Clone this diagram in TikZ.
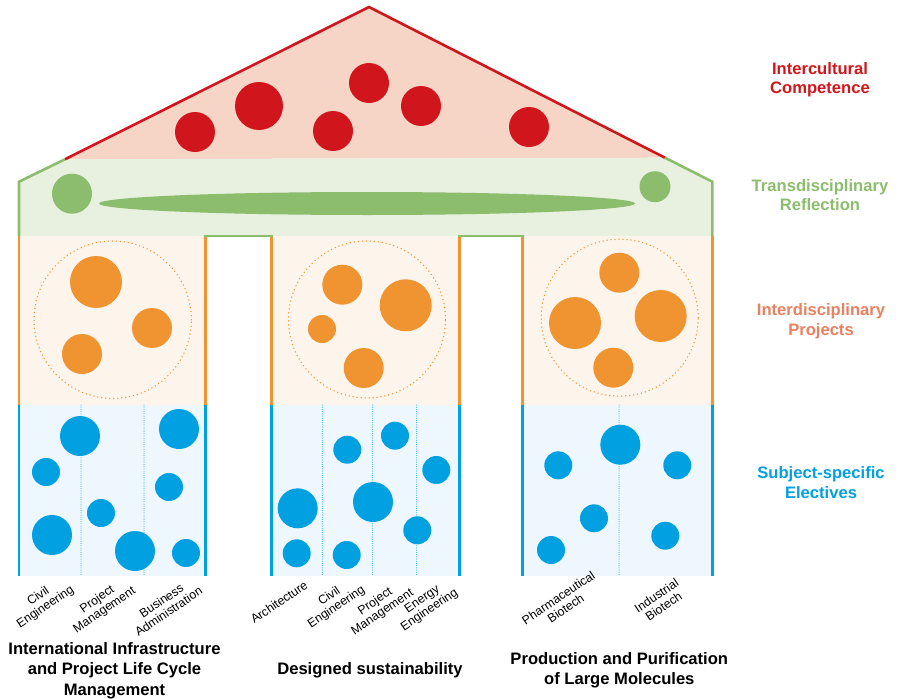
\documentclass[tikz,border=0pt]{standalone}
\usepackage{fontspec}
\setmainfont{Liberation Sans}
\definecolor{redc}{HTML}{D0161C}
\definecolor{roofc}{HTML}{F6D5C7}
\definecolor{greenc}{HTML}{8CBD6D}
\definecolor{bandc}{HTML}{E8F0E0}
\definecolor{orangec}{HTML}{EF9431}
\definecolor{orfill}{HTML}{FDF4EC}
\definecolor{bluec}{HTML}{00A0E1}
\definecolor{blfill}{HTML}{EEF7FE}
\definecolor{projc}{HTML}{EA8060}
\begin{document}
\begin{tikzpicture}[x=1pt,y=-1pt,
  outl/.style={line width=2.6pt},
  dotv/.style={draw=bluec, line width=1pt, line cap=round, dash pattern=on 0pt off 2.2pt},
  dotc/.style={draw=orangec, line width=1.5pt, line cap=round, dash pattern=on 0pt off 4pt},
  rdot/.style={fill=redc},
  gdot/.style={fill=greenc},
  odot/.style={fill=orangec},
  bdot/.style={fill=bluec},
  sidelabel/.style={font=\fontsize{16.6}{19.5}\selectfont\bfseries, align=center, inner sep=0pt},
  titlelabel/.style={font=\fontsize{16.6}{20.5}\selectfont\bfseries, align=center, inner sep=0pt},
  sublabel/.style={font=\fontsize{12.3}{12.8}\selectfont, align=center, inner sep=0pt, rotate=34}]
\useasboundingbox (0,0) rectangle (898,699);
% ---------- roof ----------
\coordinate (rl) at (65,159.3);
\coordinate (apex) at (369,7);
\coordinate (rr) at (665,157.7);
\fill[roofc] (rl) -- (apex) -- (rr) -- cycle;
% ---------- band ----------
\coordinate (bl) at (19,181.7);
\coordinate (br) at (712.3,181.7);
\coordinate (bbl) at (19,236);
\coordinate (bbr) at (712.3,236);
\fill[bandc] (bl) -- (rl) -- (rr) -- (br) -- (bbr) -- (bbl) -- cycle;
% ---------- columns ----------
\foreach \a/\b in {19/205.7, 271.3/459.3, 522.7/712.3}{
  \fill[orfill] (\a,236) rectangle (\b,405);
  \fill[blfill] (\a,405) rectangle (\b,576);
}
% dotted separators
\foreach \x in {81,144,322.3,372.7,416.7,619}{
  \draw[dotv] (\x,405) -- (\x,576);
}
% dotted circles
\draw[dotc] (112.7,319.7) circle [radius=78.7pt];
\draw[dotc] (367,319.5) circle [radius=78.5pt];
\draw[dotc] (619.7,317.7) circle [radius=78.5pt];
% red circles
\foreach \x/\y/\r in {195/132/20, 259/106/24, 333/131/20, 369/83/20, 421/106/20, 529/127/20}{
  \fill[rdot] (\x,\y) circle [radius=\r pt];
}
% green shapes
\fill[gdot] (72,193.7) circle [radius=20pt];
\fill[gdot] (655,186.7) circle [radius=15.5pt];
\fill[gdot] (367,203.5) ellipse [x radius=268pt, y radius=11.5pt];
% orange circles
\foreach \x/\y/\r in {96/282/26, 152/328/20, 82/354/20,
                      342.3/284.7/20, 405.7/305.3/26, 322/329/14, 363.7/368/20,
                      619.3/272.7/20, 575/323/26, 660.7/316/26, 613.3/367.7/20}{
  \fill[odot] (\x,\y) circle [radius=\r pt];
}
% blue circles
\foreach \x/\y/\r in {80/436/20, 46/472/14, 52/535/20, 101/513/14, 135/551/20, 179/429/20, 169/487/14, 186/553/14,
                      347.3/449.7/14, 395/435.7/14, 436.3/470/14, 297.7/508.3/20, 373/502/20, 417.3/530.3/14, 296.7/553.3/14, 346.7/555/14,
                      620.3/444.7/20, 558.3/465.3/14, 677.3/465.3/14, 594/518.3/14, 551/550/14, 665.3/535.7/14}{
  \fill[bdot] (\x,\y) circle [radius=\r pt];
}
% ---------- outlines ----------
\draw[redc, outl] (rl) -- (apex) -- (rr);
\draw[greenc, outl] (bbl) -- (bl) -- (rl);
\draw[greenc, outl] (rr) -- (br) -- (bbr);
\foreach \a/\b in {19/205.7, 271.3/459.3, 522.7/712.3}{
  \draw[orangec, outl] (\a,236) -- (\a,405);
  \draw[orangec, outl] (\b,236) -- (\b,405);
  \draw[bluec, outl] (\a,405) -- (\a,576);
  \draw[bluec, outl] (\b,405) -- (\b,576);
}
\draw[greenc, outl] (204.4,236) -- (272.6,236);
\draw[greenc, outl] (458,236) -- (524,236);
% ---------- side labels ----------
\node[sidelabel, text=redc] (lic) at (820,79.5) {Intercultural\\Competence};
\node[sidelabel, text=greenc] (ltr) at (820,195.3) {Transdisciplinary\\Reflection};
\node[sidelabel, text=projc] (lip) at (821,321.2) {Interdisciplinary\\Projects};
\node[sidelabel, text=bluec] (lse) at (821,482.8) {Subject-specific\\Electives};
% ---------- subject labels ----------
\node[sublabel] (s1) at (42,602) {Civil\\Engineering};
\node[sublabel] (s2) at (101,605) {Project\\Management};
\node[sublabel] (s3) at (165,606) {Business\\Administration};
\node[sublabel] (s4) at (279,602) {Architecture};
\node[sublabel] (s5) at (333,602) {Civil\\Engineering};
\node[sublabel] (s6) at (379,607) {Project\\Management};
\node[sublabel] (s7) at (426,605) {Energy\\Engineering};
\node[sublabel] (s8) at (562,603) {Pharmaceutical\\Biotech};
\node[sublabel] (s9) at (660,601) {Industrial\\Biotech};
% ---------- programme titles ----------
\node[titlelabel] (t1) at (114.5,670.5) {International Infrastructure\\and Project Life Cycle\\Management};
\node[titlelabel] (t2) at (370,670.7) {Designed sustainability};
\node[titlelabel] (t3) at (619.3,670) {Production and Purification\\of Large Molecules};
\end{tikzpicture}
\end{document}
